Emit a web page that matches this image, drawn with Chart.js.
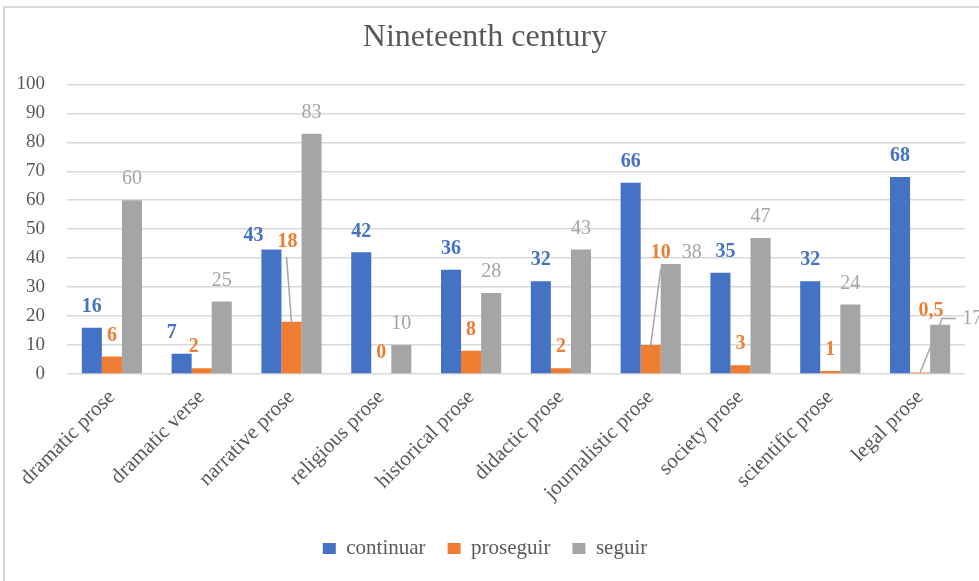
<!DOCTYPE html>
<html>
<head>
<meta charset="utf-8">
<title>Nineteenth century</title>
<script src="https://cdn.jsdelivr.net/npm/chart.js@4"></script>
<style>
  html, body { margin: 0; padding: 0; width: 979px; height: 581px; overflow: hidden; background: #fff; }
  #frame { position: absolute; left: 3px; top: 6px; width: 1000px; height: 600px;
           border-left: 2px solid #d9d9d9; border-top: 2px solid #d9d9d9; }
  #wrap { position: absolute; left: 5px; top: 8px; width: 976px; height: 575px; }
</style>
</head>
<body>
<div id="frame"></div>
<div id="wrap"><canvas id="barChart"></canvas></div>
<script>
const categories = ['dramatic prose', 'dramatic verse', 'narrative prose', 'religious prose', 'historical prose',
                    'didactic prose', 'journalistic prose', 'society prose', 'scientific prose', 'legal prose'];
const seriesNames = ['continuar', 'proseguir', 'seguir'];
const continuar = [16, 7, 43, 42, 36, 32, 66, 35, 32, 68];
const proseguir = [6, 2, 18, 0, 8, 2, 10, 3, 1, 0.5];
const seguir = [60, 25, 83, 10, 28, 43, 38, 47, 24, 17];
const yMax = 100;
const yStep = 10;

const colors = ['#4472C4', '#ED7D31', '#A5A5A5'];
const textGray = '#595959';
const fontFamily = "'Liberation Serif', 'DejaVu Serif', serif";

// labels that are moved off their bar, some with a leader line back to it
const labelShifts = {
    '0-1': { dx: -10, dy: 0 },
    '1-1': { dx: -8, dy: 0 },
    '0-2': { dx: -18, dy: 7 },
    '1-2': { dx: -4, dy: -59, leader: { ex: -1, ey: 15 } },
    '1-6': { dx: 10, dy: -71, leader: { ex: 0, ey: 16 } },
    '2-6': { dx: 21, dy: 10 },
    '0-7': { dx: 5, dy: 0 },
    '1-9': { dx: 11, dy: -41, leader: { ex: 11, ey: 8, tail: 14 } },
    '2-9': { dx: 32, dy: 15 }
};

const valueLabels = {
    id: 'valueLabels',
    afterDatasetsDraw(chart) {
        const ctx = chart.ctx;
        ctx.save();
        ctx.textAlign = 'center';
        ctx.textBaseline = 'middle';
        chart.data.datasets.forEach((ds, di) => {
            const meta = chart.getDatasetMeta(di);
            meta.data.forEach((bar, i) => {
                const shift = labelShifts[di + '-' + i] || { dx: 0, dy: 0 };
                const lx = bar.x + shift.dx;
                const ly = bar.y - 21 + shift.dy;
                if (shift.leader) {
                    const l = shift.leader;
                    ctx.strokeStyle = '#a6a6a6';
                    ctx.lineWidth = 1.5;
                    ctx.beginPath();
                    ctx.moveTo(bar.x, bar.y);
                    ctx.lineTo(lx + l.ex, ly + l.ey);
                    if (l.tail) ctx.lineTo(lx + l.ex + l.tail, ly + l.ey);
                    ctx.stroke();
                }
                ctx.font = (di < 2 ? 'bold ' : '') + '20px ' + fontFamily;
                ctx.fillStyle = colors[di];
                ctx.fillText(String(ds.data[i]).replace('.', ','), lx, ly);
            });
        });
        ctx.restore();
    }
};

const ctx = document.getElementById('barChart').getContext('2d');
new Chart(ctx, {
    type: 'bar',
    data: {
        labels: categories,
        datasets: [continuar, proseguir, seguir].map((values, k) => ({
            label: seriesNames[k],
            data: values,
            backgroundColor: colors[k],
            categoryPercentage: 0.67,
            barPercentage: 1.0
        }))
    },
    options: {
        responsive: true,
        maintainAspectRatio: false,
        animation: false,
        layout: { padding: { left: 0, right: 16, top: 0, bottom: 14 } },
        plugins: {
            title: {
                display: true,
                text: 'Nineteenth century',
                color: textGray,
                font: { family: fontFamily, size: 32, weight: 'normal' },
                padding: { top: 10, bottom: 28 }
            },
            legend: {
                position: 'bottom',
                labels: {
                    color: textGray,
                    font: { family: fontFamily, size: 21 },
                    boxWidth: 13,
                    boxHeight: 11,
                    padding: 22
                }
            },
            tooltip: { enabled: false }
        },
        scales: {
            x: {
                afterFit(scale) { scale.height = 142; },
                grid: { display: false },
                border: { display: false },
                ticks: {
                    color: textGray,
                    font: { family: fontFamily, size: 21 },
                    minRotation: 45,
                    maxRotation: 45,
                    autoSkip: false
                }
            },
            y: {
                min: 0,
                max: yMax,
                afterFit(scale) { scale.width = 62; },
                grid: { color: '#d9d9d9', lineWidth: 1.5, drawTicks: false },
                border: { display: false },
                ticks: {
                    stepSize: yStep,
                    padding: 22,
                    color: textGray,
                    font: { family: fontFamily, size: 19 }
                }
            }
        }
    },
    plugins: [valueLabels]
});
</script>
</body>
</html>
